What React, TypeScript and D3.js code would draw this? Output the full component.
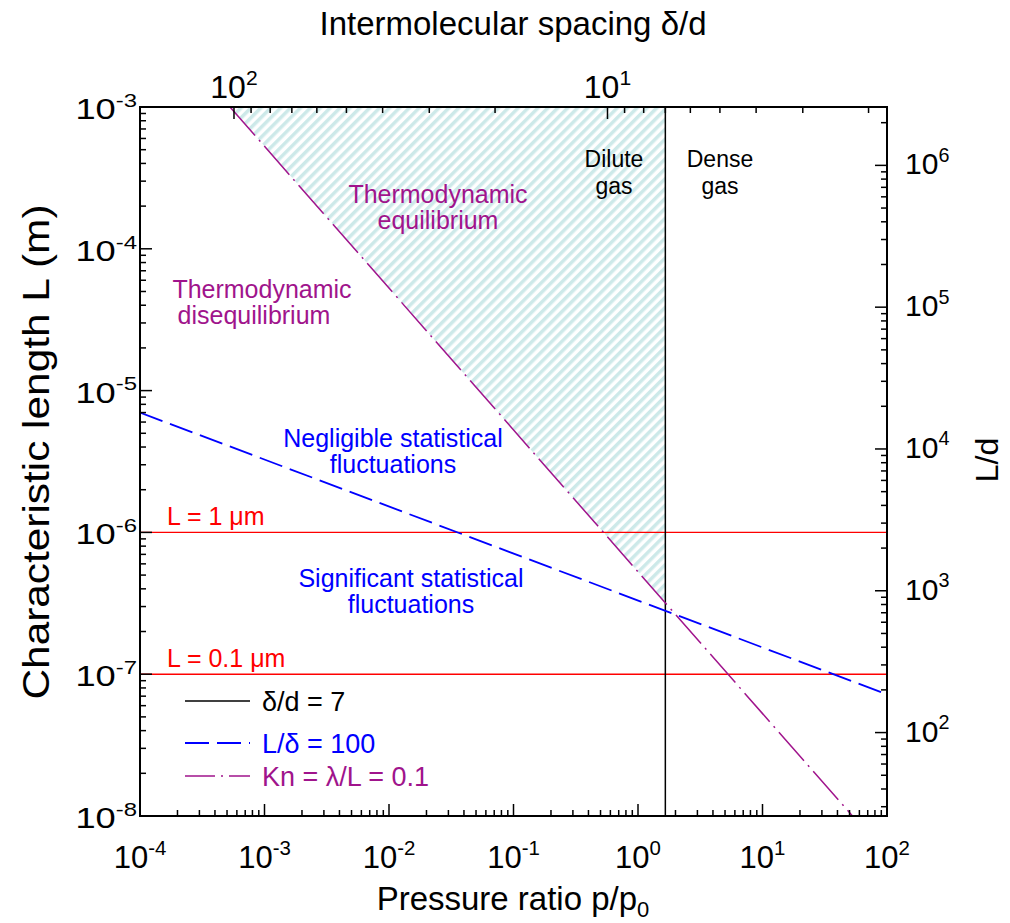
import React from "react";
import * as d3 from "d3";

// ---- data ----
const PRESSURE_DOMAIN = [1e-4, 1e2]; // p/p0
const LENGTH_DOMAIN = [1e-8, 1e-3]; // L (m)
const SPACING_DOMAIN = [178.5, 1.785]; // delta/d at left and right edge (top axis)
const LD_DOMAIN = [25.8, 2.58e6]; // L/d at bottom and top edge (right axis)
const DILUTE_LIMIT = 7; // delta/d = 7
const STAT_P = [1e-4, 1e2]; // L/delta = 100 line
const STAT_L = [7.0e-6, 7.2e-8];
const KN_P = [5.28e-4, 52.8]; // Kn = 0.1 line
const KN_L = [1e-3, 1e-8];
const RED_LEVELS = [1e-6, 1e-7];
const RED_LABELS = ["L = 1 \u03bcm", "L = 0.1 \u03bcm"];
const BOTTOM_EXP = [-4, -3, -2, -1, 0, 1, 2];
const LEFT_EXP = [-3, -4, -5, -6, -7, -8];
const TOP_EXP = [2, 1];
const RIGHT_EXP = [6, 5, 4, 3, 2];

const W = 1010, H = 923;
const L0 = 140, R0 = 887, T0 = 107, B0 = 816;
const FONT = "'Liberation Sans', Arial, Helvetica, sans-serif";
const PURPLE = "#a0148c";
const BLUE = "#0000ff";
const RED = "#ff0000";

function minorTicks(lo: number, hi: number) {
  const a = Math.min(lo, hi), b = Math.max(lo, hi);
  const out: { v: number; major: boolean }[] = [];
  for (let e = Math.floor(Math.log10(a)) - 1; e <= Math.ceil(Math.log10(b)); e++) {
    for (let m = 1; m <= 9; m++) {
      const v = m * Math.pow(10, e);
      if (v >= a * 0.9999 && v <= b * 1.0001) out.push({ v, major: m === 1 });
    }
  }
  return out;
}

function Pow({ exp, x, y, size, anchor, sx = 1 }: { exp: number; x: number; y: number; size: number; anchor: string; sx?: number }) {
  return (
    <text transform={`translate(${x},${y}) scale(${sx},1)`} fontSize={size} textAnchor={anchor} fontFamily={FONT} fill="#000">
      <tspan>10</tspan>
      <tspan dy={-size * 0.42} fontSize={size * 0.66}>{String(exp)}</tspan>
    </text>
  );
}

export default function App() {
  const x = d3.scaleLog().domain(PRESSURE_DOMAIN).range([L0, R0]);
  const y = d3.scaleLog().domain(LENGTH_DOMAIN).range([B0, T0]);
  const xt = d3.scaleLog().domain(SPACING_DOMAIN).range([L0, R0]);
  const yr = d3.scaleLog().domain(LD_DOMAIN).range([B0, T0]);

  const line = d3.line<[number, number]>().x((d) => x(d[0])).y((d) => y(d[1]));
  const statPts: [number, number][] = STAT_P.map((p, i) => [p, STAT_L[i]]);
  const knPts: [number, number][] = KN_P.map((p, i) => [p, KN_L[i]]);

  const xDiv = xt(DILUTE_LIMIT);
  const pDiv = x.invert(xDiv);
  const slope = (Math.log10(KN_L[1]) - Math.log10(KN_L[0])) / (Math.log10(KN_P[1]) - Math.log10(KN_P[0]));
  const lDiv = Math.pow(10, Math.log10(KN_L[0]) + (Math.log10(pDiv) - Math.log10(KN_P[0])) * slope);
  const poly = [
    [x(KN_P[0]), y(KN_L[0])],
    [xDiv, y(LENGTH_DOMAIN[1])],
    [xDiv, y(lDiv)],
  ];

  const tickMajor = 12, tickMinor = 6;
  const bottomTicks = minorTicks(PRESSURE_DOMAIN[0], PRESSURE_DOMAIN[1]);
  const leftTicks = minorTicks(LENGTH_DOMAIN[0], LENGTH_DOMAIN[1]);
  const topTicks = minorTicks(SPACING_DOMAIN[1], SPACING_DOMAIN[0]);
  const rightTicks = minorTicks(LD_DOMAIN[0], LD_DOMAIN[1]);

  return (
    <svg width={W} height={H} style={{ position: "absolute", left: 0, top: 0, background: "#fff" }}>
      <defs>
        <pattern id="hatch" patternUnits="userSpaceOnUse" width={7} height={7} patternTransform="rotate(45)">
          <rect x={0} y={0} width={3.5} height={7} fill="#cde9e9" />
        </pattern>
        <clipPath id="plot">
          <rect x={L0} y={T0} width={R0 - L0} height={B0 - T0} />
        </clipPath>
      </defs>
      <rect x={0} y={0} width={W} height={H} fill="#fff" />

      <polygon points={poly.map((p) => p.join(",")).join(" ")} fill="url(#hatch)" />

      <g clipPath="url(#plot)">
        {RED_LEVELS.map((v, i) => (
          <line key={i} x1={L0} x2={R0} y1={y(v)} y2={y(v)} stroke={RED} strokeWidth={1.4} />
        ))}
        <line x1={xDiv} x2={xDiv} y1={T0} y2={B0} stroke="#000" strokeWidth={1.5} />
        <path d={line(statPts) || ""} fill="none" stroke={BLUE} strokeWidth={1.8} strokeDasharray="24,8" />
        <path d={line(knPts) || ""} fill="none" stroke={PURPLE} strokeWidth={1.5} strokeDasharray="38,6,2,6" />
      </g>

      {/* ticks */}
      {bottomTicks.map((t, i) => (
        <line key={"b" + i} x1={x(t.v)} x2={x(t.v)} y1={B0} y2={B0 - (t.major ? tickMajor : tickMinor)} stroke="#000" strokeWidth={1.5} />
      ))}
      {leftTicks.map((t, i) => (
        <line key={"l" + i} x1={L0} x2={L0 + (t.major ? tickMajor : tickMinor)} y1={y(t.v)} y2={y(t.v)} stroke="#000" strokeWidth={1.5} />
      ))}
      {topTicks.map((t, i) => (
        <line key={"t" + i} x1={xt(t.v)} x2={xt(t.v)} y1={T0} y2={T0 + (t.major ? tickMajor : tickMinor)} stroke="#000" strokeWidth={1.5} />
      ))}
      {rightTicks.map((t, i) => (
        <line key={"r" + i} x1={R0} x2={R0 - (t.major ? tickMajor : tickMinor)} y1={yr(t.v)} y2={yr(t.v)} stroke="#000" strokeWidth={1.5} />
      ))}

      <rect x={L0} y={T0} width={R0 - L0} height={B0 - T0} fill="none" stroke="#000" strokeWidth={2} />

      {/* tick labels */}
      {BOTTOM_EXP.map((e) => (
        <Pow key={"bl" + e} exp={e} x={x(Math.pow(10, e))} y={868} size={31} anchor="middle" />
      ))}
      {LEFT_EXP.map((e) => (
        <Pow key={"ll" + e} exp={e} x={137} y={y(Math.pow(10, e)) + 12} size={29} anchor="end" sx={1.25} />
      ))}
      {TOP_EXP.map((e) => (
        <Pow key={"tl" + e} exp={e} x={xt(Math.pow(10, e))} y={98} size={32} anchor="middle" />
      ))}
      {RIGHT_EXP.map((e) => (
        <Pow key={"rl" + e} exp={e} x={905} y={yr(Math.pow(10, e)) + 9} size={30} anchor="start" />
      ))}

      {/* axis titles */}
      <text x={513} y={35} fontSize={33} textAnchor="middle" fontFamily={FONT}>Intermolecular spacing &#948;/d</text>
      <text x={513} y={910} fontSize={33} textAnchor="middle" fontFamily={FONT}>
        <tspan>Pressure ratio p/p</tspan>
        <tspan dy={7} fontSize={22}>0</tspan>
      </text>
      <text transform={`translate(49,452) rotate(-90)`} fontSize={36} textAnchor="middle" fontFamily={FONT}
        textLength={495} lengthAdjust="spacingAndGlyphs">Characteristic length L (m)</text>
      <text transform={`translate(998,460) rotate(-90)`} fontSize={32} textAnchor="middle" fontFamily={FONT}>L/d</text>

      {/* region labels */}
      <g fontFamily={FONT} fontSize={25} textAnchor="middle">
        <text x={438} y={203} fill={PURPLE}>Thermodynamic</text>
        <text x={438} y={229} fill={PURPLE}>equilibrium</text>
        <text x={262} y={298} fill={PURPLE}>Thermodynamic</text>
        <text x={254} y={324} fill={PURPLE}>disequilibrium</text>
        <text x={393} y={447} fill={BLUE}>Negligible statistical</text>
        <text x={393} y={473} fill={BLUE}>fluctuations</text>
        <text x={411} y={587} fill={BLUE}>Significant statistical</text>
        <text x={411} y={613} fill={BLUE}>fluctuations</text>
      </g>
      <g fontFamily={FONT} fontSize={23} textAnchor="middle" fill="#000">
        <text x={614} y={167}>Dilute</text>
        <text x={614} y={194}>gas</text>
        <text x={720} y={167}>Dense</text>
        <text x={720} y={194}>gas</text>
      </g>
      {RED_LEVELS.map((v, i) => (
        <text key={"rl" + i} x={167} y={y(v) - 7} fontSize={25} fill={RED} fontFamily={FONT}>{RED_LABELS[i]}</text>
      ))}

      {/* legend */}
      <g fontFamily={FONT} fontSize={27}>
        <line x1={185} x2={250} y1={701} y2={701} stroke="#000" strokeWidth={1.5} />
        <text x={262} y={711} fill="#000">&#948;/d = 7</text>
        <line x1={185} x2={250} y1={743} y2={743} stroke={BLUE} strokeWidth={1.8} strokeDasharray="24,8" />
        <text x={262} y={753} fill={BLUE}>L/&#948; = 100</text>
        <line x1={185} x2={250} y1={776} y2={776} stroke={PURPLE} strokeWidth={1.5} strokeDasharray="30,6,2,6" />
        <text x={262} y={786} fill={PURPLE}>Kn = &#955;/L = 0.1</text>
      </g>
    </svg>
  );
}
